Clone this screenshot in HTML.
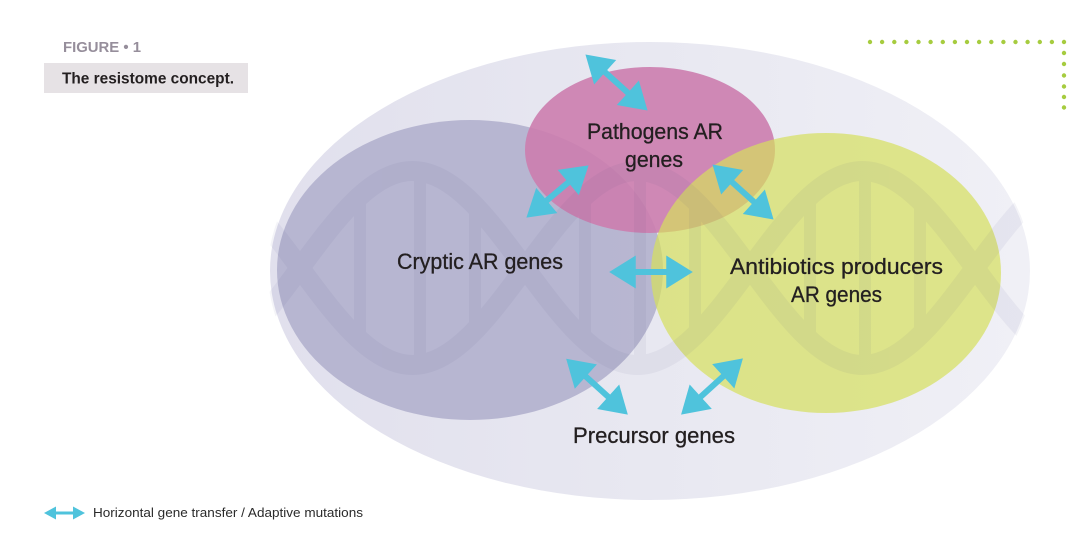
<!DOCTYPE html>
<html>
<head>
<meta charset="utf-8">
<style>
  html, body { margin: 0; padding: 0; background: #ffffff; }
  body { width: 1088px; height: 542px; overflow: hidden; }
  svg { display: block; }
</style>
</head>
<body>
<svg width="1088" height="542" viewBox="0 0 1088 542" xmlns="http://www.w3.org/2000/svg">
  <defs>
    <linearGradient id="outerGrad" x1="0" y1="0" x2="1" y2="0">
      <stop offset="0" stop-color="#e1e0ed"/>
      <stop offset="0.5" stop-color="#e8e8f1"/>
      <stop offset="1" stop-color="#f0f0f6"/>
    </linearGradient>
    <clipPath id="outerClip">
      <ellipse cx="650" cy="271" rx="382" ry="230"/>
    </clipPath>
    <marker id="ah" markerUnits="userSpaceOnUse" markerWidth="28" markerHeight="34" viewBox="0 -16 26 32" refX="12" refY="0" orient="auto-start-reverse">
      <path d="M0,-15.5 L25,0 L0,15.5 Z" fill="#4fc3dc"/>
    </marker>
    <marker id="ahs" markerUnits="userSpaceOnUse" markerWidth="14" markerHeight="16" viewBox="0 -8 13 16" refX="6" refY="0" orient="auto-start-reverse">
      <path d="M0,-6.5 L12,0 L0,6.5 Z" fill="#4fc3dc"/>
    </marker>
  </defs>

  <!-- Outer resistome ellipse -->
  <ellipse cx="650" cy="271" rx="380" ry="229" fill="url(#outerGrad)"/>

  <!-- Cryptic AR genes -->
  <ellipse cx="470" cy="270" rx="193" ry="150" fill="#b3b2ce" opacity="0.92"/>

  <!-- Pathogens AR genes -->
  <ellipse cx="650" cy="150" rx="125" ry="83" fill="#cc7dae" opacity="0.9"/>

  <!-- Antibiotic producers AR genes -->
  <ellipse cx="826" cy="273" rx="175" ry="140" fill="#d5e05d" opacity="0.7"/>

  <!-- DNA helix watermark -->
  <g clip-path="url(#outerClip)" fill="none" stroke="#4a4880" opacity="0.06">
    <path stroke-width="20" d="M187.5,365 C228.21,365 263.31,317.7 300,268 C336.69,218.3 371.79,171 412.5,171 C453.21,171 488.31,218.3 525,268 C561.69,317.7 596.79,365 637.5,365 C678.21,365 713.31,317.7 750,268 C786.69,218.3 821.79,171 862.5,171 C903.21,171 938.31,218.3 975,268 C1011.69,317.7 1046.79,365 1087.5,365"/>
    <path stroke-width="20" d="M187.5,171 C228.21,171 263.31,218.3 300,268 C336.69,317.7 371.79,365 412.5,365 C453.21,365 488.31,317.7 525,268 C561.69,218.3 596.79,171 637.5,171 C678.21,171 713.31,218.3 750,268 C786.69,317.7 821.79,365 862.5,365 C903.21,365 938.31,317.7 975,268 C1011.69,218.3 1046.79,171 1087.5,171"/>
    <g stroke-width="12">
      <line x1="360" y1="200" x2="360" y2="336"/>
      <line x1="420" y1="176" x2="420" y2="360"/>
      <line x1="475" y1="210" x2="475" y2="326"/>
      <line x1="585" y1="200" x2="585" y2="336"/>
      <line x1="640" y1="176" x2="640" y2="360"/>
      <line x1="695" y1="205" x2="695" y2="331"/>
      <line x1="810" y1="200" x2="810" y2="336"/>
      <line x1="865" y1="176" x2="865" y2="360"/>
      <line x1="920" y1="205" x2="920" y2="331"/>
    </g>
  </g>

  <!-- Double-headed arrows -->
  <g stroke="#4fc3dc" stroke-width="6" fill="none" marker-start="url(#ah)" marker-end="url(#ah)">
    <line x1="595.7" y1="63.7" x2="637.3" y2="101.3"/>
    <line x1="578.0" y1="174.3" x2="537.0" y2="208.7"/>
    <line x1="722.7" y1="173.7" x2="763.3" y2="210.3"/>
    <line x1="623" y1="272" x2="679" y2="272"/>
    <line x1="576.4" y1="368.0" x2="617.6" y2="405.3"/>
    <line x1="732.7" y1="367.7" x2="691.3" y2="405.3"/>
  </g>

  <!-- Node labels -->
  <g font-family="'Liberation Sans', 'DejaVu Sans', sans-serif" font-size="22" fill="#231f20" stroke="#231f20" stroke-width="0.3">
    <text x="397" y="269" textLength="166" lengthAdjust="spacingAndGlyphs">Cryptic AR genes</text>
    <text x="587" y="139" textLength="136" lengthAdjust="spacingAndGlyphs">Pathogens AR</text>
    <text x="625" y="167" textLength="58" lengthAdjust="spacingAndGlyphs">genes</text>
    <text x="730" y="274" textLength="213" lengthAdjust="spacingAndGlyphs">Antibiotics producers</text>
    <text x="791" y="302" textLength="91" lengthAdjust="spacingAndGlyphs">AR genes</text>
    <text x="573" y="443" textLength="162" lengthAdjust="spacingAndGlyphs">Precursor genes</text>
  </g>

  <!-- Title -->
  <text x="63" y="52" font-family="'Liberation Sans', sans-serif" style="font-weight:700" font-size="14.5" fill="#968e9b" textLength="78" lengthAdjust="spacingAndGlyphs">FIGURE • 1</text>
  <rect x="44" y="63" width="204" height="30" fill="#e6e2e5"/>
  <text x="62" y="83.5" font-family="'Liberation Sans', sans-serif" style="font-weight:700" font-size="15.5" fill="#231f20" textLength="172" lengthAdjust="spacingAndGlyphs">The resistome concept.</text>

  <!-- Dotted corner decoration -->
  <g fill="#a6cc3f">
    <circle cx="870" cy="42" r="2.2"/>
    <circle cx="882.1" cy="42" r="2.2"/>
    <circle cx="894.3" cy="42" r="2.2"/>
    <circle cx="906.4" cy="42" r="2.2"/>
    <circle cx="918.5" cy="42" r="2.2"/>
    <circle cx="930.6" cy="42" r="2.2"/>
    <circle cx="942.8" cy="42" r="2.2"/>
    <circle cx="954.9" cy="42" r="2.2"/>
    <circle cx="967" cy="42" r="2.2"/>
    <circle cx="979.1" cy="42" r="2.2"/>
    <circle cx="991.3" cy="42" r="2.2"/>
    <circle cx="1003.4" cy="42" r="2.2"/>
    <circle cx="1015.5" cy="42" r="2.2"/>
    <circle cx="1027.6" cy="42" r="2.2"/>
    <circle cx="1039.8" cy="42" r="2.2"/>
    <circle cx="1051.9" cy="42" r="2.2"/>
    <circle cx="1064" cy="42" r="2.2"/>
    <circle cx="1064" cy="53" r="2.2"/>
    <circle cx="1064" cy="64" r="2.2"/>
    <circle cx="1064" cy="75.5" r="2.2"/>
    <circle cx="1064" cy="86.5" r="2.2"/>
    <circle cx="1064" cy="97" r="2.2"/>
    <circle cx="1064" cy="107.5" r="2.2"/>
  </g>

  <!-- Legend -->
  <line x1="50" y1="513" x2="79" y2="513" stroke="#4fc3dc" stroke-width="3" marker-start="url(#ahs)" marker-end="url(#ahs)"/>
  <text x="93" y="517" font-family="'Liberation Sans', sans-serif" font-size="13" fill="#2a2a2a" textLength="270" lengthAdjust="spacingAndGlyphs">Horizontal gene transfer / Adaptive mutations</text>
</svg>
</body>
</html>
